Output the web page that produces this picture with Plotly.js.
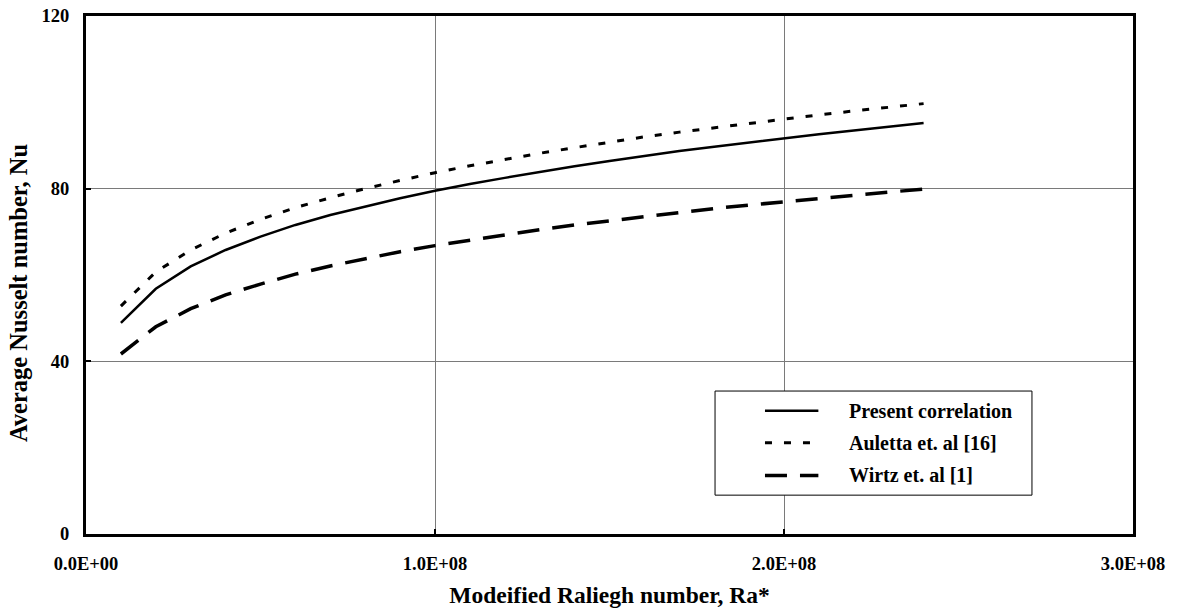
<!DOCTYPE html>
<html>
<head>
<meta charset="utf-8">
<script src="https://cdn.plot.ly/plotly-3.0.1.min.js"></script>
<style>html,body{margin:0;padding:0;background:#fff;}#chart{width:1179px;height:613px;}</style>
</head>
<body>
<div id="chart"></div>
<script>
const raValues = [1e7,2e7,3e7,4e7,5e7,6e7,7e7,8e7,9e7,1e8,1.1e8,1.2e8,1.3e8,1.4e8,1.5e8,1.6e8,1.7e8,1.8e8,1.9e8,2e8,2.1e8,2.2e8,2.3e8,2.4e8];
const presentNu = [48.9,56.8,62.0,65.8,68.9,71.6,73.9,75.9,77.8,79.5,81.1,82.5,83.9,85.2,86.4,87.6,88.7,89.7,90.7,91.7,92.6,93.5,94.4,95.2];
const aulettaNu = [52.8,60.7,65.8,69.7,72.9,75.6,77.9,80.0,81.9,83.7,85.3,86.8,88.2,89.5,90.8,92.0,93.1,94.1,95.2,96.1,97.1,98.0,98.9,99.7];
const wirtzNu = [41.7,48.0,52.2,55.4,57.9,60.2,62.1,63.8,65.4,66.8,68.1,69.3,70.5,71.6,72.6,73.6,74.5,75.4,76.2,77.0,77.8,78.5,79.2,79.9];
const seriesNames = ["Present correlation","Auletta et. al [16]","Wirtz et. al [1]"];
const xTickVals = [0,1e8,2e8,3e8];
const xTickText = ["0.0E+00","1.0E+08","2.0E+08","3.0E+08"];
const yTickVals = [0,40,80,120];
const xTitle = "Modeified Raliegh number, Ra*";
const yTitle = "Average Nusselt number, Nu";

const font = '"Liberation Serif", "Times New Roman", serif';
const lineStyles = [
  {color: "#000", width: 2.5},
  {color: "#000", width: 3, dash: "7px,12px"},
  {color: "#000", width: 3.5, dash: "22px,13px"}
];
const seriesY = [presentNu, aulettaNu, wirtzNu];
const traces = seriesY.map((ys, i) => ({
  x: raValues, y: ys, name: seriesNames[i], mode: "lines", line: lineStyles[i], showlegend: false
}));

// legend box built from series names and line styles (paper coordinates)
const legX0 = 0.6008, legX1 = 0.9035, legY0 = 0.075, legY1 = 0.276;
const rowY = [0.238, 0.176, 0.113];
const shapes = [{type: "rect", xref: "paper", yref: "paper", x0: legX0, x1: legX1, y0: legY0, y1: legY1,
  line: {color: "#000", width: 1}, fillcolor: "#fff", layer: "above"}];
const annotations = [];
seriesNames.forEach((name, i) => {
  shapes.push({type: "line", xref: "paper", yref: "paper", x0: 0.6485, x1: 0.6995, y0: rowY[i], y1: rowY[i],
    line: Object.assign({}, lineStyles[i]), layer: "above"});
  annotations.push({xref: "paper", yref: "paper", x: 0.727, y: rowY[i], xanchor: "left", yanchor: "middle",
    text: name, showarrow: false, font: {family: font, size: 20, color: "#000", weight: "bold"}});
});
// y-axis title (placed slightly below the plot centre, as in the original)
annotations.push({xref: "paper", yref: "paper", x: -0.065, y: 0.465, xanchor: "center", yanchor: "middle",
  text: yTitle, textangle: -90, showarrow: false,
  font: {family: font, size: 24.5, color: "#000", weight: "bold"}});

const axisCommon = {
  showline: true, mirror: true, linecolor: "#000", linewidth: 3,
  ticks: "inside", ticklen: 5, tickwidth: 2, tickcolor: "#000",
  showgrid: true, gridcolor: "#7a7a7a", gridwidth: 1, zeroline: false,
  tickfont: {family: font, size: 18.5, color: "#000", weight: "bold"}
};
const layout = {
  width: 1179, height: 613,
  margin: {l: 86, r: 46, t: 16, b: 79},
  paper_bgcolor: "#fff", plot_bgcolor: "#fff",
  font: {family: font, color: "#000"},
  showlegend: false,
  shapes: shapes, annotations: annotations,
  xaxis: Object.assign({}, axisCommon, {
    range: [0, 3e8], tickmode: "array", tickvals: xTickVals, ticktext: xTickText,
    ticklabelstandoff: 11,
    title: {text: xTitle, standoff: 14,
      font: {family: font, size: 23.5, color: "#000", weight: "bold"}}
  }),
  yaxis: Object.assign({}, axisCommon, {
    range: [0, 120], tickmode: "array", tickvals: yTickVals,
    ticklabelstandoff: 10
  })
};
Plotly.newPlot("chart", traces, layout, {displayModeBar: false, staticPlot: true});
</script>
</body>
</html>
